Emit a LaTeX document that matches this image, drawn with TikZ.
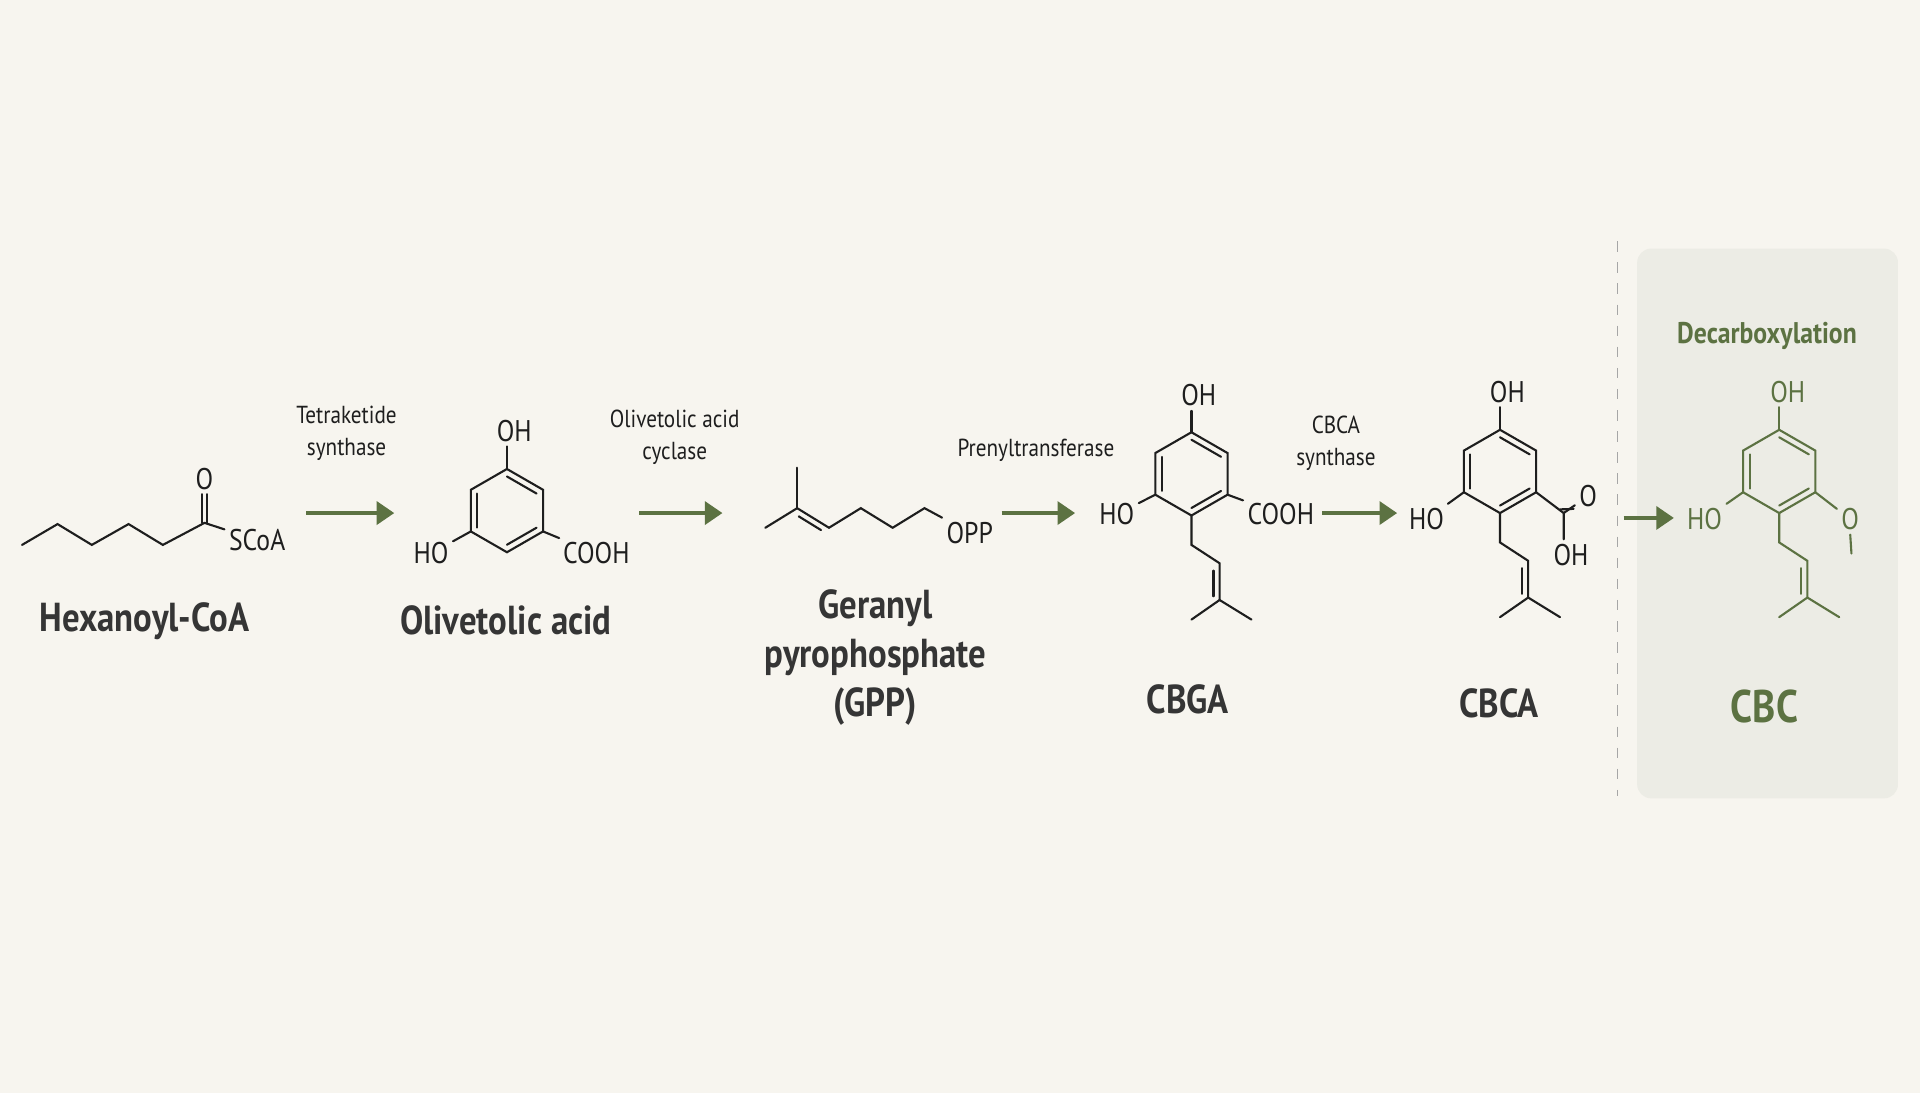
\documentclass[tikz,border=0pt]{standalone}
\usepackage{fontspec}
\setmainfont{PT Sans}[FakeStretch=0.86]
\usetikzlibrary{positioning, calc, arrows.meta}
\definecolor{bgcream}{RGB}{247,245,239}
\definecolor{boxgray}{RGB}{236,236,229}
\definecolor{leaf}{RGB}{92,114,66}
\definecolor{ink}{RGB}{30,30,30}
\tikzset{
  bond/.style={line width=0.6pt, ink, line cap=round},
  atom/.style={inner sep=1pt, font=\fontsize{8.5}{9}\selectfont, text=ink},
  enzyme/.style={align=center, font=\fontsize{7}{9}\selectfont, text=ink},
  molname/.style={align=center, font=\fontsize{11.5}{14}\selectfont\bfseries, text=ink!90},
  Flow/.style={line width=1.1pt, leaf, -{Triangle[length=5pt, width=6.5pt]}}
}
% ring of six vertices, 1 top, then anticlockwise
\newcommand{\Ring}[3]{%
  \coordinate (#1-c) at (#2,#3);
  \coordinate (#1-1) at (#2,#3-34);
  \coordinate (#1-2) at (#2-29.5,#3-17);
  \coordinate (#1-3) at (#2-29.5,#3+17);
  \coordinate (#1-4) at (#2,#3+34);
  \coordinate (#1-5) at (#2+29.5,#3+17);
  \coordinate (#1-6) at (#2+29.5,#3-17);
  \draw (#1-1) -- (#1-2) -- (#1-3) -- (#1-4) -- (#1-5) -- (#1-6) -- cycle;
  \draw ($(#1-1)!.18!(#1-c)$) -- ($(#1-6)!.18!(#1-c)$);
  \draw ($(#1-2)!.18!(#1-c)$) -- ($(#1-3)!.18!(#1-c)$);
  \draw ($(#1-4)!.18!(#1-c)$) -- ($(#1-5)!.18!(#1-c)$);
}
% prenyl tail hanging from vertex 4
\newcommand{\Tail}[3]{%
  \coordinate (#1-t1) at (#2,#3+58);
  \coordinate (#1-t2) at (#2+23,#3+73);
  \coordinate (#1-t3) at (#2+23,#3+103);
  \coordinate (#1-t4) at (#2,#3+119);
  \coordinate (#1-t5) at (#2+49,#3+119);
  \draw (#1-4) -- (#1-t1) -- (#1-t2) -- (#1-t3) -- (#1-t4);
  \draw (#1-t3) -- (#1-t5);
  \draw ($(#1-t2)+(-5,6)$) -- ($(#1-t3)+(-5,-3)$);
}
\begin{document}
\begin{tikzpicture}[x=0.012245cm, y=-0.012245cm]
    \fill[bgcream] (0,0) rectangle (1568,893);
    \fill[boxgray, rounded corners=4pt] (1337,203) rectangle (1550,652);
    \coordinate (d1) at (1321,197);
    \coordinate (d2) at (1321,650);
    \draw[gray!70, dashed, line width=0.4pt] (d1) -- (d2);

    % Hexanoyl-CoA
    \begin{scope}[bond]
    \coordinate (h1) at (18,445);
    \coordinate (h2) at (47,428);
    \coordinate (h3) at (75,445);
    \coordinate (h4) at (105,428);
    \coordinate (h5) at (133,445);
    \coordinate (h6) at (167,427);
    \node[atom] (hx-o) at (167,391) {O};
    \node[atom] (hx-s) at (210,441) {SCoA};
    \draw (h1) -- (h2) -- (h3) -- (h4) -- (h5) -- (h6) -- (hx-s);
    \draw ($(h6)+(-2,0)$) -- ($(hx-o.south)+(-2,0)$);
    \draw ($(h6)+(2,0)$) -- ($(hx-o.south)+(2,0)$);
    \end{scope}
    \node[molname] (hx) at (118,507) {Hexanoyl-CoA};

    % Olivetolic acid
    \begin{scope}[bond]
    \Ring{oa}{414}{417}
    \node[atom] (oa-oh) at (420,352) {OH};
    \node[atom] (oa-ho) at (352,452) {HO};
    \node[atom] (oa-co) at (487,452) {COOH};
    \draw (oa-1) -- (oa-oh.south -| oa-1);
    \draw (oa-3) -- (oa-ho);
    \draw (oa-5) -- (oa-co);
    \end{scope}
    \node[molname] (oa) at (413,507) {Olivetolic acid};

    % GPP
    \begin{scope}[bond]
    \coordinate (g0) at (625,431);
    \coordinate (g1) at (651,415);
    \coordinate (gm) at (651,382);
    \coordinate (g2) at (677,431);
    \coordinate (g3) at (703,415);
    \coordinate (g4) at (729,431);
    \coordinate (g5) at (755,415);
    \node[atom] (g-opp) at (792,435) {OPP};
    \draw (g0) -- (g1) -- (g2) -- (g3) -- (g4) -- (g5) -- (g-opp);
    \draw (gm) -- (g1);
    \draw ($(g1)!.15!(g2)+(-2.6,4.3)$) -- ($(g1)!.85!(g2)+(-2.6,4.3)$);
    \end{scope}
    \node[molname] (gpp) at (715,537) {Geranyl\\pyrophosphate\\(GPP)};

    % CBGA
    \begin{scope}[bond]
    \Ring{ga}{973}{387}
    \Tail{ga}{973}{387}
    \node[atom] (ga-oh) at (979,323) {OH};
    \node[atom] (ga-ho) at (912,420) {HO};
    \node[atom] (ga-co) at (1046,420) {COOH};
    \draw (ga-1) -- (ga-oh.south -| ga-1);
    \draw (ga-3) -- (ga-ho);
    \draw (ga-5) -- (ga-co);
    \end{scope}
    \node[molname] (cbga) at (970,571) {CBGA};

    % CBCA
    \begin{scope}[bond]
    \Ring{ca}{1225}{385}
    \Tail{ca}{1225}{385}
    \node[atom] (ca-oh) at (1231,320) {OH};
    \node[atom] (ca-ho) at (1165,424) {HO};
    \coordinate (ca-k) at (1277,419);
    \node[atom] (ca-o) at (1297,405) {O};
    \node[atom] (ca-oh2) at (1283,453) {OH};
    \draw (ca-1) -- (ca-oh.south -| ca-1);
    \draw (ca-3) -- (ca-ho);
    \draw (ca-5) -- (ca-k) -- (ca-oh2.north -| ca-k);
    \draw (ca-k) -- (ca-o);
    \draw ($(ca-k)+(-3,-3)$) -- ($(ca-o.south west)+(-1,-2)$);
    \end{scope}
    \node[molname] (cbca) at (1224,574) {CBCA};

    % CBC
    \begin{scope}[bond, leaf]
    \Ring{cb}{1453}{385}
    \Tail{cb}{1453}{385}
    \node[atom, text=leaf] (cb-oh) at (1460,320) {OH};
    \node[atom, text=leaf] (cb-ho) at (1392,424) {HO};
    \node[atom, text=leaf] (cb-o) at (1511,424) {O};
    \coordinate (cb-me) at (1512,452);
    \draw (cb-1) -- (cb-oh.south -| cb-1);
    \draw (cb-3) -- (cb-ho);
    \draw (cb-5) -- (cb-o);
    \draw (cb-o.south) -- (cb-me);
    \end{scope}
    \node[molname, text=leaf] (cbc) at (1441,577) {\fontsize{13}{15}\selectfont CBC};
    \node[molname, text=leaf, font=\fontsize{8.5}{10}\selectfont\bfseries] (dec) at (1443,274) {Decarboxylation};

    % steps
    \coordinate (a1s) at (250,419); \coordinate (a1e) at (322,419);
    \coordinate (a2s) at (522,419); \coordinate (a2e) at (590,419);
    \coordinate (a3s) at (818,419); \coordinate (a3e) at (878,419);
    \coordinate (a4s) at (1080,419); \coordinate (a4e) at (1141,419);
    \coordinate (a5s) at (1326,423); \coordinate (a5e) at (1367,423);
    \draw[Flow] (a1s) -- (a1e);
    \draw[Flow] (a2s) -- (a2e);
    \draw[Flow] (a3s) -- (a3e);
    \draw[Flow] (a4s) -- (a4e);
    \draw[Flow] (a5s) -- (a5e);
    \node[enzyme] (e1) at (283,354) {Tetraketide\\synthase};
    \node[enzyme] (e2) at (551,357) {Olivetolic acid\\cyclase};
    \node[enzyme] (e3) at (846,368) {Prenyltransferase};
    \node[enzyme] (e4) at (1091,362) {CBCA\\synthase};
\end{tikzpicture}
\end{document}
